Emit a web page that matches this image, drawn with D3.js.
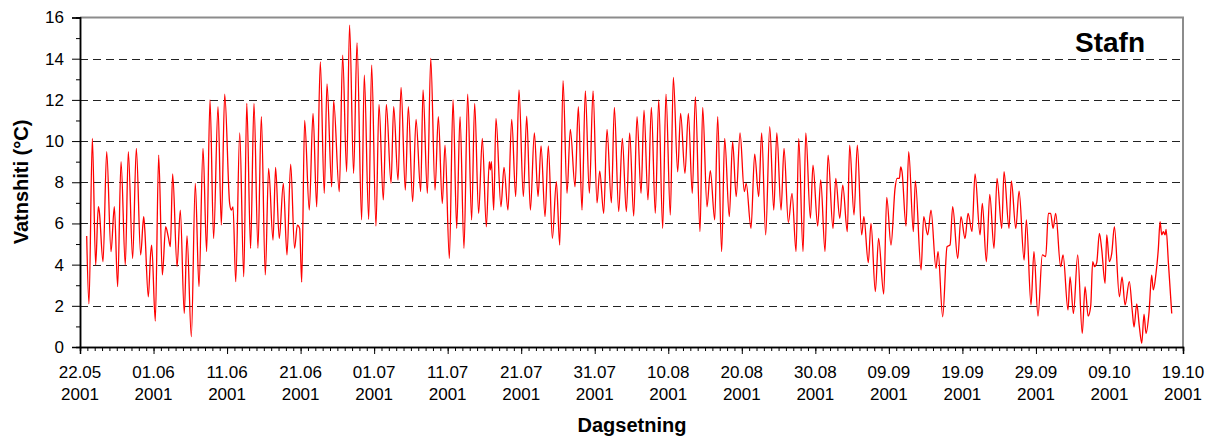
<!DOCTYPE html>
<html><head><meta charset="utf-8">
<script src="https://cdn.jsdelivr.net/npm/d3@7"></script>
<style>
body{margin:0;background:#fff}
text{font-family:Arial,"Liberation Sans",sans-serif;fill:#000}
</style>
</head><body>
<svg id="chart" width="1212" height="441"></svg>
<script>
// ---- data ----
const startDate = Date.UTC(2001, 4, 22);   // 22.05.2001
const spanDays = 150;                      // to 19.10.2001
const xTickDays = [0,10,20,30,40,50,60,70,80,90,100,110,120,130,140,150];
const yTicks = [0,2,4,6,8,10,12,14,16];
const gridValues = [2,4,6,8,10,12,14];
const chartTitle = "Stafn";
const yTitle = "Vatnshiti (°C)";
const xTitle = "Dagsetning";
// [days after 22.05.2001, water temperature °C]
const readings = [
[0.91,5.39],[1.22,2.09],[1.68,10.13],[2.13,3.98],[2.49,6.81],[2.62,6.6],[3.13,4.14],[3.63,9.48],
[4.22,4.63],[4.67,6.81],[5.12,2.93],[5.58,9.0],[6.16,3.98],[6.57,9.48],[7.16,4.3],[7.66,9.64],
[8.25,4.47],[8.66,6.33],[8.8,5.76],[9.29,2.44],[9.6,4.5],[9.75,4.95],[10.24,1.26],[10.7,9.32],
[11.2,3.5],[11.65,5.84],[12.0,5.36],[12.29,4.87],[12.6,8.4],[13.2,3.9],[13.64,6.65],[14.18,1.63],
[14.55,5.4],[15.14,0.5],
[15.68,7.95],[16.18,2.93],[16.73,9.64],[17.22,4.63],[17.68,12.0],[18.17,5.27],[18.77,11.67],[19.22,5.92],
[19.68,12.28],[20.35,6.97],[20.58,6.65],[20.81,6.8],[21.18,3.17],[21.72,10.4],[22.27,3.41],[22.68,11.83],
[23.2,4.79],[23.66,11.83],[24.2,4.79],[24.66,11.18],[25.2,3.5],[25.65,8.67],[26.25,5.19],[26.6,8.72],
[27.1,5.27],[27.65,7.95],[28.15,4.47],[28.65,8.88],[29.18,4.79],[29.56,5.92],[29.87,5.76],[30.15,3.15],
[30.55,11.0],[31.18,6.65],[31.69,11.34],[32.19,6.81],[32.68,13.85],[33.22,7.46],[33.59,12.77],[34.23,7.78],
[34.49,11.96],[35.26,7.54],[35.72,14.17],[36.26,8.51],[36.66,15.63],[37.21,8.43],[37.67,14.77],[38.3,6.17],
[38.66,13.2],[39.26,6.2],[39.66,13.69],[40.25,5.87],[40.66,11.78],[41.25,7.14],[41.66,11.78],[42.3,7.95],
[42.66,11.67],[43.25,8.1],[43.66,12.6],[44.24,7.62],[44.65,11.67],[45.24,7.06],[45.7,11.05],
[46.33,7.54],[46.65,12.48],[47.24,7.46],[47.7,14.01],[48.28,7.62],[48.73,11.18],[49.27,6.97],[49.64,9.8],
[50.23,4.3],[50.73,12.0],[51.23,5.76],[51.68,11.18],[52.22,4.79],[52.72,12.28],[53.26,6.17],[53.67,11.83],
[54.21,6.49],[54.71,10.13],[55.26,5.84],[55.66,9.0],[55.8,8.6],[55.95,9.0],[56.26,6.65],[56.57,11.1],
[57.25,6.81],[57.66,8.72],[58.2,6.65],[58.71,11.05],[59.25,7.3],[59.7,12.48],[60.29,7.3],[60.75,11.21],
[61.25,6.65],[61.79,10.4],[62.29,7.3],[62.7,9.76],[63.24,6.33],[63.69,9.76],[64.24,5.27],[64.78,8.03],
[65.24,4.95],[65.69,12.93],[66.23,7.46],[66.68,10.57],[67.32,7.78],[67.77,11.67],[68.27,6.65],[68.72,12.44],
[69.27,7.46],[69.77,12.44],[70.31,7.0],[70.68,8.54],[71.22,6.49],[71.67,10.57],[72.26,7.0],[72.67,11.63],
[73.26,6.57],[73.75,10.13],[74.3,6.57],[74.75,10.4],[75.3,6.36],[75.75,11.18],[76.3,7.46],
[76.7,11.5],[77.24,7.14],[77.7,11.63],[78.24,6.49],[78.7,12.0],[79.24,5.76],[79.69,12.28],[80.28,6.41],
[80.69,13.09],[81.28,8.51],[81.68,11.34],[82.27,8.43],[82.73,11.34],[83.27,7.46],[83.68,12.15],[84.32,5.6],
[84.68,11.63],[85.27,6.81],[85.72,8.56],[86.32,6.17],[86.72,11.18],[87.26,4.63],[87.67,10.13],[88.3,6.33],
[88.75,9.97],[89.24,7.3],[89.76,10.4],[90.34,7.54],[90.6,7.95],[91.25,5.76],[91.75,9.37],
[92.3,7.3],[92.7,10.4],[93.25,5.44],[93.8,10.7],[94.35,6.65],[94.76,10.4],[95.34,6.65],[95.74,9.64],
[96.33,6.04],[96.83,7.46],[97.38,4.63],[97.74,10.13],[98.33,4.63],[98.7,10.4],[99.33,6.25],[99.68,8.83],
[100.32,5.87],[100.73,8.11],[101.32,4.63],[101.73,9.32],[102.4,5.76],[102.78,8.19],[103.32,6.25],[103.73,7.86],
[104.35,5.6],[104.67,9.8],[105.26,6.41],[105.71,9.8],[106.3,5.44],[106.6,6.33],[107.2,4.1],
[107.57,6.0],[108.16,2.69],[108.6,5.27],[109.3,2.57],[109.71,7.27],[110.29,4.95],[110.84,7.7],[111.11,8.19],
[111.43,8.19],[111.61,8.75],[111.79,8.51],[112.33,5.87],[112.7,9.48],[113.33,5.6],[113.6,8.07],[114.38,3.74],
[114.74,6.33],[115.28,5.44],[115.73,6.65],[116.41,3.82],[116.69,4.63],[117.32,1.47],[117.91,4.87],[118.32,4.95],
[118.68,6.81],[119.36,4.3],[119.81,6.33],[120.36,5.27],[120.77,6.49],[121.31,5.6],[121.72,8.4],[122.4,5.44],
[122.71,6.97],[123.26,4.14],[123.72,7.41],[124.3,4.79],[124.71,8.19],[125.35,5.76],[125.66,8.51],[126.34,5.76],
[126.66,8.07],[127.26,5.76],[127.71,7.57],[128.39,4.22],[128.7,6.17],[129.33,2.04],[129.73,4.63],[130.28,1.5],
[130.87,4.47],[131.33,4.39],[131.69,6.49],[132.0,6.49],[132.33,5.76],[132.69,6.49],[133.36,3.9],[133.69,4.47],
[134.36,1.8],[134.64,3.41],[135.1,1.63],[135.68,4.47],[136.3,0.66],[136.68,2.93],[137.1,1.5],[137.45,2.0],
[137.72,4.15],[137.97,3.9],[138.27,4.1],[138.63,5.52],[138.95,4.73],[139.4,3.09],[139.63,5.44],[139.98,4.15],
[140.31,4.55],[140.67,5.84],[141.35,2.44],[141.71,3.41],[142.12,2.04],[142.7,3.17],[143.11,1.72],[143.34,0.97],
[143.71,2.09],[144.06,1.0],[144.39,0.18],[144.7,1.6],[144.97,0.66],[145.38,1.68],[145.74,3.49],[145.96,2.77],
[146.33,3.58],[146.65,4.79],[146.88,6.09],[147.11,5.44],[147.33,5.6],[147.56,5.44],[147.7,5.71],[148.02,4.06],
[148.47,1.63]
];

// ---- chart ----
const DAY = 864e5;
const toDate = d => new Date(startDate + d * DAY);
const svg = d3.select("#chart");
const L = 80, R = 1183, T = 17.5, B = 347;

const x = d3.scaleUtc().domain([toDate(0), toDate(spanDays)]).range([L, R]);
const y = d3.scaleLinear().domain([0, 16]).range([B, T]);

// grid
svg.append("g").selectAll("line").data(gridValues).join("line")
  .attr("x1", L).attr("x2", R)
  .attr("y1", d => Math.round(y(d)) + 0.5).attr("y2", d => Math.round(y(d)) + 0.5)
  .attr("stroke", "#222").attr("stroke-width", 1).attr("stroke-dasharray", "8,5");

// frame (top / right in grey)
svg.append("path")
  .attr("d", `M${L},${T}H${R}V${B}`)
  .attr("fill", "none").attr("stroke", "#8c8c8c").attr("stroke-width", 2);

// series
const line = d3.line()
  .x(d => x(toDate(d[0])))
  .y(d => y(d[1]))
  .curve(d3.curveMonotoneX);
svg.append("path").datum(readings)
  .attr("d", line)
  .attr("fill", "none").attr("stroke", "#ff0000").attr("stroke-width", 1.3)
  .attr("stroke-linejoin", "round");

// y axis
const yAxisMajor = d3.axisLeft(y).tickValues(yTicks).tickSize(8).tickPadding(8).tickFormat(d3.format("d"));
const yAxisMinor = d3.axisLeft(y).tickValues(d3.range(1, 16, 2)).tickSize(4).tickFormat("");
const gyMinor = svg.append("g").attr("transform", `translate(${L},0)`).call(yAxisMinor);
const gy = svg.append("g").attr("transform", `translate(${L},0)`).call(yAxisMajor);
[gy, gyMinor].forEach(g => {
  g.select(".domain").attr("stroke", "#000").attr("stroke-width", 1.5);
  g.selectAll(".tick line").attr("stroke", "#000");
});
gy.selectAll(".tick text").attr("font-size", 17).attr("font-family", "Arial, 'Liberation Sans', sans-serif").attr("fill", "#000");

// x axis
const xMinor = d3.axisBottom(x).tickValues(d3.range(0, spanDays + 1).map(toDate)).tickSize(4).tickFormat("");
const xMajor = d3.axisBottom(x).tickValues(xTickDays.map(toDate)).tickSize(7).tickFormat("");
const gxMinor = svg.append("g").attr("transform", `translate(0,${B})`).call(xMinor);
const gx = svg.append("g").attr("transform", `translate(0,${B})`).call(xMajor);
[gx, gxMinor].forEach(g => {
  g.select(".domain").attr("stroke", "#000").attr("stroke-width", 1.5);
  g.selectAll(".tick line").attr("stroke", "#000");
});
const fmtDM = d3.utcFormat("%d.%m"), fmtY = d3.utcFormat("%Y");
const lab = svg.append("g").selectAll("text").data(xTickDays.map(toDate)).join("text")
  .attr("text-anchor", "middle").attr("font-size", 17);
lab.append("tspan").attr("x", d => x(d)).attr("y", 378).text(fmtDM);
lab.append("tspan").attr("x", d => x(d)).attr("y", 400).text(fmtY);

// titles
svg.append("text").attr("x", 1145).attr("y", 52).attr("text-anchor", "end")
  .attr("font-size", 28).attr("font-weight", "bold").text(chartTitle);
svg.append("text").attr("transform", "translate(28,182) rotate(-90)")
  .attr("text-anchor", "middle").attr("font-size", 20).attr("font-weight", "bold").text(yTitle);
svg.append("text").attr("x", 632).attr("y", 432).attr("text-anchor", "middle")
  .attr("font-size", 20).attr("font-weight", "bold").text(xTitle);
</script>
</body></html>
